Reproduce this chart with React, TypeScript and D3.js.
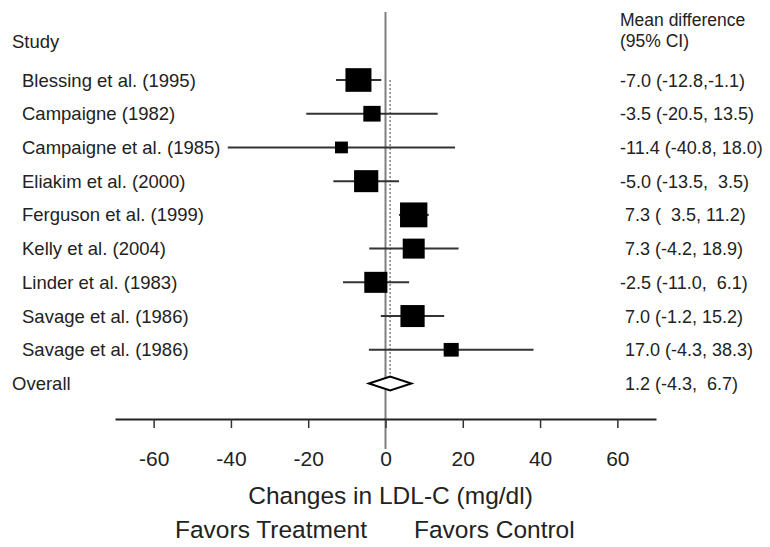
import React, { useRef, useEffect } from "react";
import * as d3 from "d3";

const studies = [
  "Blessing et al. (1995)",
  "Campaigne (1982)",
  "Campaigne et al. (1985)",
  "Eliakim et al. (2000)",
  "Ferguson et al. (1999)",
  "Kelly et al. (2004)",
  "Linder et al. (1983)",
  "Savage et al. (1986)",
  "Savage et al. (1986)",
];
const means = [-7.0, -3.5, -11.4, -5.0, 7.3, 7.3, -2.5, 7.0, 17.0];
const lower = [-12.8, -20.5, -40.8, -13.5, 3.5, -4.2, -11.0, -1.2, -4.3];
const upper = [-1.1, 13.5, 18.0, 3.5, 11.2, 18.9, 6.1, 15.2, 38.3];
// study weights (%)
const weights = [15.8, 7.0, 3.9, 13.7, 17.5, 11.3, 12.5, 13.7, 5.3];
const ciLabels = [
  "-7.0 (-12.8,-1.1)",
  "-3.5 (-20.5, 13.5)",
  "-11.4 (-40.8, 18.0)",
  "-5.0 (-13.5,  3.5)",
  " 7.3 (  3.5, 11.2)",
  " 7.3 (-4.2, 18.9)",
  "-2.5 (-11.0,  6.1)",
  " 7.0 (-1.2, 15.2)",
  " 17.0 (-4.3, 38.3)",
];
const overall = { mean: 1.2, lower: -4.3, upper: 6.7, label: " 1.2 (-4.3,  6.7)" };
const xTicks = [-60, -40, -20, 0, 20, 40, 60];

const App = () => {
  const svgRef = useRef<SVGSVGElement | null>(null);

  useEffect(() => {
    document.body.style.margin = "0";
    const width = 770;
    const height = 547;
    const font = "'Liberation Sans', Arial, sans-serif";

    const x = d3.scaleLinear().domain([-70, 70]).range([115, 656]);
    const rows = [...studies.map((_, i) => i), studies.length];
    const y = d3.scalePoint<number>().domain(rows).range([80, 383.5]);
    const side = d3.scaleSqrt().domain([0, 16.3]).range([0, 24]);

    const svg = d3.select(svgRef.current);
    svg.selectAll("*").remove();
    svg.attr("width", width).attr("height", height);

    // zero line
    svg.append("line")
      .attr("x1", x(0)).attr("x2", x(0))
      .attr("y1", 12).attr("y2", 449)
      .attr("stroke", "#808080").attr("stroke-width", 2);

    // overall dotted line
    svg.append("line")
      .attr("x1", x(overall.mean)).attr("x2", x(overall.mean))
      .attr("y1", y(0)).attr("y2", y(studies.length)! - 6)
      .attr("stroke", "#888").attr("stroke-width", 1.6)
      .attr("stroke-dasharray", "2,2");

    // headers
    svg.append("text").attr("x", 12).attr("y", 48)
      .style("font-family", font).style("font-size", "18.5px").attr("fill", "#222")
      .text("Study");
    svg.append("text").attr("x", 620).attr("y", 26)
      .style("font-family", font).style("font-size", "17.5px").attr("fill", "#222")
      .text("Mean difference");
    svg.append("text").attr("x", 620).attr("y", 47)
      .style("font-family", font).style("font-size", "17.5px").attr("fill", "#222")
      .text("(95% CI)");

    const g = svg.selectAll(".study")
      .data(studies)
      .enter()
      .append("g")
      .attr("class", "study");

    g.append("text")
      .attr("x", 22)
      .attr("y", (_, i) => y(i)! + 6.5)
      .style("font-family", font).style("font-size", "18.5px").attr("fill", "#222")
      .text(d => d);

    g.append("line")
      .attr("x1", (_, i) => x(lower[i]))
      .attr("x2", (_, i) => x(upper[i]))
      .attr("y1", (_, i) => y(i)!)
      .attr("y2", (_, i) => y(i)!)
      .attr("stroke", "#333").attr("stroke-width", 2);

    g.append("rect")
      .attr("x", (_, i) => x(means[i]) - side(weights[i]) * 0.55)
      .attr("y", (_, i) => y(i)! - side(weights[i]) / 2)
      .attr("width", (_, i) => side(weights[i]) * 1.1)
      .attr("height", (_, i) => side(weights[i]))
      .attr("fill", "#000");

    g.append("text")
      .attr("x", 620)
      .attr("y", (_, i) => y(i)! + 6.5)
      .style("white-space", "pre")
      .style("font-family", font).style("font-size", "18px").attr("fill", "#222")
      .text((_, i) => ciLabels[i]);

    // overall row
    const oy = y(studies.length)!;
    svg.append("text").attr("x", 12).attr("y", oy + 6.5)
      .style("font-family", font).style("font-size", "18.5px").attr("fill", "#222")
      .text("Overall");
    svg.append("path")
      .attr("d", `M${x(overall.lower)},${oy} L${x(overall.mean)},${oy - 7} L${x(overall.upper)},${oy} L${x(overall.mean)},${oy + 7} Z`)
      .attr("fill", "#fff").attr("stroke", "#000").attr("stroke-width", 2);
    svg.append("text").attr("x", 620).attr("y", oy + 6.5)
      .style("white-space", "pre")
      .style("font-family", font).style("font-size", "18px").attr("fill", "#222")
      .text(overall.label);

    // x axis
    const axis = svg.append("g").attr("transform", "translate(0,419)");
    axis.call(d3.axisBottom(x).tickValues(xTicks).tickSize(9).tickSizeOuter(0).tickPadding(0).tickFormat(d => String(d)));
    axis.select(".domain").attr("stroke", "#222").attr("stroke-width", 2);
    axis.selectAll(".tick line").attr("stroke", "#333").attr("stroke-width", 1.5);
    axis.selectAll(".tick text")
      .attr("y", 47).attr("dy", null)
      .style("font-family", font).style("font-size", "21px").attr("fill", "#222");

    svg.append("text").attr("x", 390.5).attr("y", 504)
      .attr("text-anchor", "middle")
      .style("font-family", font).style("font-size", "24.5px").attr("fill", "#222")
      .text("Changes in LDL-C (mg/dl)");
    svg.append("text").attr("x", 367).attr("y", 538)
      .attr("text-anchor", "end")
      .style("font-family", font).style("font-size", "24.5px").attr("fill", "#222")
      .text("Favors Treatment");
    svg.append("text").attr("x", 414).attr("y", 538)
      .style("font-family", font).style("font-size", "24.5px").attr("fill", "#222")
      .text("Favors Control");
  }, []);

  return <svg ref={svgRef}></svg>;
};

export default App;
